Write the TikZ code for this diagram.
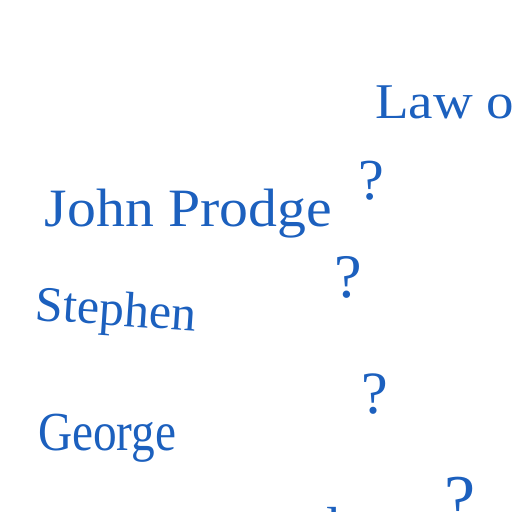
\documentclass[tikz,border=0pt]{standalone}
\usepackage{fontspec}
\setmainfont{Liberation Serif}
\definecolor{inkblue}{RGB}{28,96,190}
\begin{document}
\begin{tikzpicture}[x=1pt,y=-1pt,
  lbl/.style={inner sep=0pt,outer sep=0pt,anchor=base west,text=inkblue}]
\useasboundingbox (0,0) rectangle (512,512);
\clip (0,0) rectangle (512,512);
\node[lbl,xscale=1.1] (law) at (375,118) {\fontsize{50}{60}\selectfont Law of};
\node[lbl] (q1) at (358,199) {\fontsize{58}{70}\selectfont ?};
\node[lbl,xscale=1.07] (john) at (45,226) {\fontsize{54}{64}\selectfont John Prodge};
\node[lbl] (q2) at (334,297) {\fontsize{62}{72}\selectfont ?};
\node[lbl,rotate=-4] (stephen) at (35,320) {\fontsize{50}{60}\selectfont Stephen};
\node[lbl] (q3) at (361,413) {\fontsize{60}{70}\selectfont ?};
\node[lbl,xscale=0.86] (george) at (38,450) {\fontsize{55}{65}\selectfont George};
\node[lbl] (q4) at (444,523) {\fontsize{70}{80}\selectfont ?};
\node[lbl] (frag) at (326,545) {\fontsize{55}{65}\selectfont l};
\end{tikzpicture}
\end{document}
